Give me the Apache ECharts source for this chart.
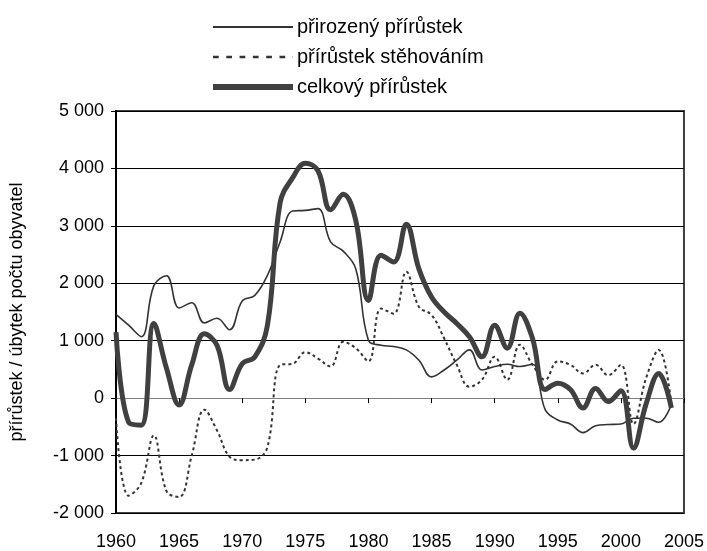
<!DOCTYPE html>
<html>
<head>
<meta charset="utf-8">
<script src="https://cdn.jsdelivr.net/npm/echarts@6/dist/echarts.min.js"></script>
<style>
    html, body { margin: 0; padding: 0; background: #fff; }
    #chart { width: 707px; height: 551px; }
</style>
</head>
<body>
<div id="chart"></div>
<script>
// roky 1960 - 2004
var years = [];
for (var y = 1960; y <= 2004; y++) years.push(y);

// přirozený přírůstek
var natural = [
    1460, 1270, 1070, 1960, 2130, 1570, 1660, 1310, 1390, 1190,
    1690, 1790, 2140, 2720, 3260, 3270, 3300, 2720, 2560, 2250,
    1010, 920, 900, 840, 660, 370, 490, 660, 840, 490,
    550, 590, 550, 590, -200, -380, -450, -600, -480, -460,
    -450, -350, -350, -420, -110
];
// přírůstek stěhováním
var migration = [
    -350, -1700, -1480, -650, -1620, -1720, -1000, -200, -560, -1020,
    -1080, -1070, -850, 580, 600, 800, 690, 550, 980, 870,
    640, 1560, 1470, 2200, 1590, 1450, 1040, 580, 200, 320,
    720, 320, 930, 580, 320, 640, 580, 430, 580, 400,
    580, -450, 350, 840, -100
];
// celkový přírůstek
var total = [
    1150, -420, -470, 1300, 520, -120, 580, 1120, 920, 150,
    600, 720, 1270, 3400, 3840, 4090, 3960, 3280, 3550, 3090,
    1700, 2490, 2370, 3030, 2250, 1760, 1500, 1300, 1070, 720,
    1270, 870, 1480, 1040, 150, 260, 150, -170, 170, -60,
    130, -870, -100, 430, -170
];

var names = ["přirozený přírůstek", "přírůstek stěhováním", "celkový přírůstek"];

function pairs(arr) {
    var out = [];
    for (var i = 0; i < arr.length; i++) out.push([years[i], arr[i]]);
    return out;
}

function fmt(v) {
    var s = String(Math.abs(v)).replace(/\B(?=(\d{3})+(?!\d))/g, " ");
    return (v < 0 ? "-" : "") + s;
}

// ikonky legendy v boxu 80x20 (rohove body jen drzi velikost boxu)
var box = "M0,0 L0,0 M80,20 L80,20 ";
var iconThin = "path://" + box + "M0,9 L80,9 L80,11 L0,11 Z";
var iconThick = "path://" + box + "M0,7 L80,7 L80,13 L0,13 Z";
var iconDot = "path://" + box;
for (var d = 0; d < 80; d += 13.3) {
    var w = Math.min(5.7, 80 - d);
    iconDot += "M" + d + ",8.7 L" + (d + w) + ",8.7 L" + (d + w) + ",11.3 L" + d + ",11.3 Z ";
}

var font = "'Liberation Sans', Arial, sans-serif";

var myChart = echarts.init(document.getElementById("chart"));
var option = {
    animation: false,
    textStyle: { fontFamily: font },
    legend: {
        data: [
            { name: names[0], icon: iconThin },
            { name: names[1], icon: iconDot },
            { name: names[2], icon: iconThick },
        ],
        orient: "vertical",
        left: 208,
        top: 12,
        itemWidth: 80,
        itemHeight: 20,
        itemGap: 10,
        textStyle: { fontSize: 20, color: "#000", fontFamily: font, padding: [0, 0, 0, -1] },
    },
    grid: {
        left: 116,
        right: 23,
        top: 111,
        bottom: 37,
        show: true,
        borderColor: "#404040",
        borderWidth: 2,
    },
    xAxis: [
        {
            type: "value",
            min: 1960,
            max: 2005,
            interval: 5,
            position: "bottom",
            axisLine: { show: false, onZero: false },
            axisTick: { show: false },
            splitLine: { show: false },
            axisLabel: {
                fontSize: 18,
                color: "#000",
                margin: 20,
                fontFamily: font,
                formatter: function (v) { return String(v); },
            },
        },
        {
            type: "value",
            min: 1960,
            max: 2005,
            interval: 5,
            position: "bottom",
            axisLine: { show: true, onZero: true, lineStyle: { color: "#808080", width: 1 } },
            axisTick: { show: true, length: 5, lineStyle: { color: "#000" } },
            splitLine: { show: false },
            axisLabel: { show: false },
        },
    ],
    yAxis: {
        type: "value",
        min: -2000,
        max: 5000,
        interval: 1000,
        name: "přírůstek / úbytek počtu obyvatel",
        nameLocation: "middle",
        nameRotate: 90,
        nameGap: 90,
        nameTextStyle: { fontSize: 18, color: "#000", fontFamily: font },
        axisLine: { show: true, lineStyle: { color: "#000", width: 2 } },
        axisTick: { show: true, length: 5, lineStyle: { color: "#000" } },
        splitLine: { show: true, lineStyle: { color: "#000", width: 1 } },
        axisLabel: {
            fontSize: 18,
            color: "#000",
            margin: 12,
            fontFamily: font,
            formatter: fmt,
        },
    },
    series: [
        {
            name: names[0],
            type: "line",
            data: pairs(natural),
            symbol: "none",
            smooth: 0.4,
            lineStyle: { color: "#333", width: 1.6 },
            itemStyle: { color: "#333" },
        },
        {
            name: names[1],
            type: "line",
            data: pairs(migration),
            symbol: "none",
            smooth: 0.4,
            lineStyle: { color: "#333", width: 2, type: [3, 3] },
            itemStyle: { color: "#333" },
        },
        {
            name: names[2],
            type: "line",
            data: pairs(total),
            symbol: "none",
            smooth: 0.4,
            lineStyle: { color: "#404040", width: 5 },
            itemStyle: { color: "#404040" },
        },
    ],
};
myChart.setOption(option);
</script>
</body>
</html>
